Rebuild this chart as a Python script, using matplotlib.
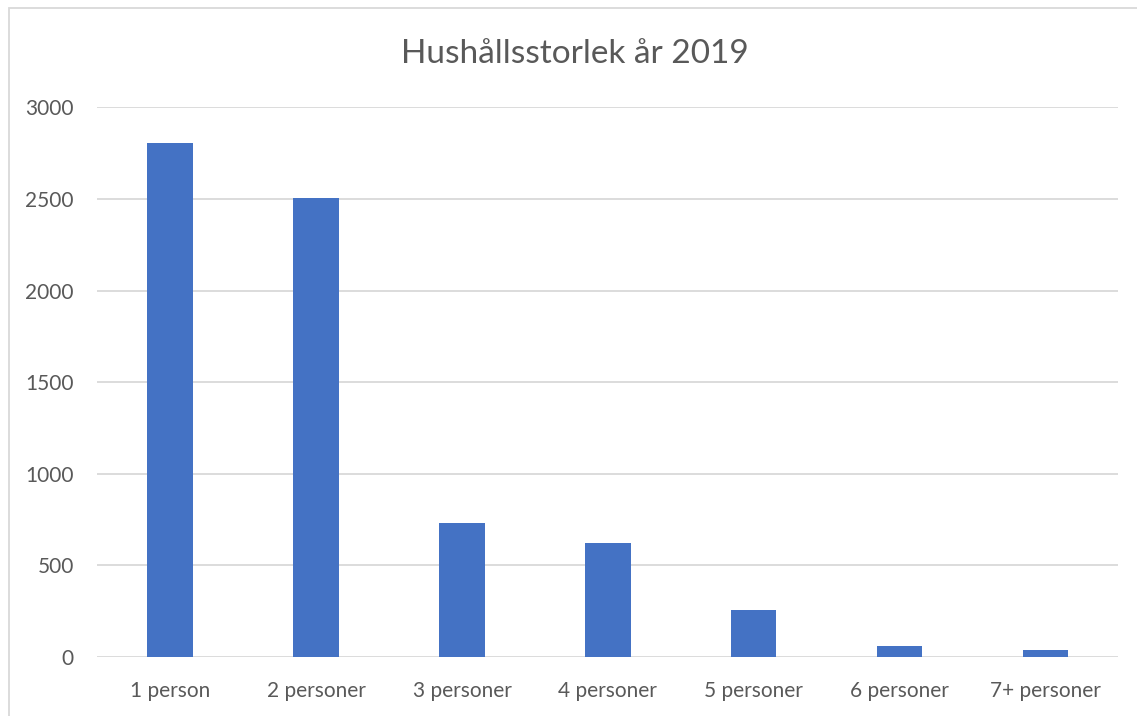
import matplotlib.pyplot as plt
from matplotlib.patches import Rectangle

plt.rcParams['font.family'] = ['Lato', 'DejaVu Sans']

# Data
categories = ['1 person', '2 personer', '3 personer', '4 personer',
              '5 personer', '6 personer', '7+ personer']
households = [2804, 2504, 732, 623, 257, 62, 37]
yticks = [0, 500, 1000, 1500, 2000, 2500, 3000]

W, H = 1137, 716
fig = plt.figure(figsize=(W / 100, H / 100), dpi=100)
ax = fig.add_axes([97.3 / W, 1 - 657 / H, (1118.3 - 97.3) / W, (657 - 107.3) / H])

text_col = '#595959'
ax.bar(range(len(categories)), households, width=0.313, color='#4472C4', zorder=3)
ax.set_xlim(-0.5, len(categories) - 0.5)
ax.set_ylim(0, 3000)
ax.set_yticks(yticks)
ax.set_xticks(range(len(categories)))
ax.set_xticklabels(categories)
ax.yaxis.grid(True, color='#D9D9D9', linewidth=1.3, zorder=0)
for s in ax.spines.values():
    s.set_visible(False)
ax.tick_params(axis='both', length=0, labelsize=15, labelcolor=text_col)
ax.tick_params(axis='y', pad=17)
ax.tick_params(axis='x', pad=17)

fig.text(575 / W, 1 - 63 / H, 'Hushållsstorlek år 2019', ha='center', va='baseline',
         fontsize=24, color=text_col)

# chart border (clipped at right/bottom as in the screenshot)
fig.patches.append(Rectangle((9 / W, -0.1), 1.2, 1 - 8 / H + 0.1, transform=fig.transFigure,
                             fill=False, edgecolor='#D9D9D9', linewidth=1.3))

fig.savefig('out.png', dpi=100)
